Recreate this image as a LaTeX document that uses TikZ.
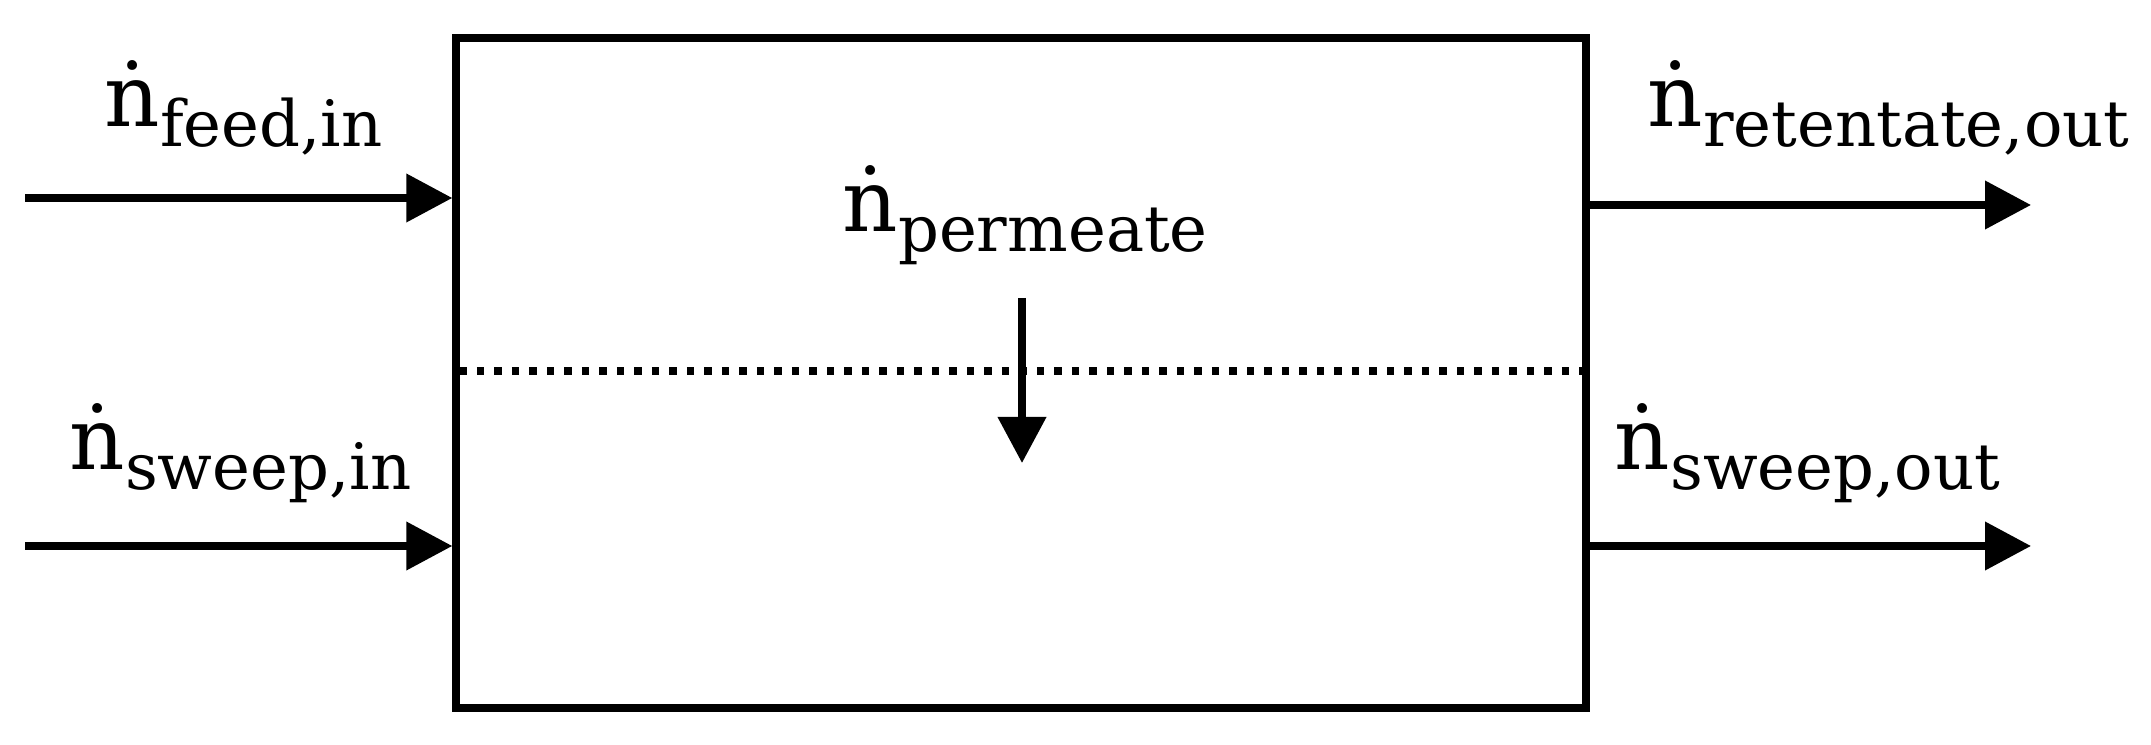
\documentclass[tikz,border=0pt]{standalone}
\usepackage{fontspec}
\setmainfont{DejaVu Serif}
\usepackage{tikz}
\usetikzlibrary{arrows.meta}
\tikzset{>={Triangle[length=4.6mm,width=4.7mm]}}
\tikzstyle{label}=[anchor=base west,inner sep=0,font=\fontsize{24.5}{29}\selectfont]
\tikzstyle{flow}=[->,line width=2.1pt]
\newcommand{\molflow}[1]{\.{n}\raisebox{-0.2cm}{\fontsize{18.2}{22}\selectfont #1}}

\begin{document}
\begin{tikzpicture}
				\useasboundingbox (0,0) rectangle (21.51,7.45);
				\node[draw,line width=2.1pt,minimum width=11.30cm,minimum height=6.70cm,inner sep=0] at (10.21, 3.72)   (unit) {};
				
				\coordinate (fin) at (0.25, 5.47);
				\coordinate (sin) at (0.25, 1.99);
				\coordinate (rout) at (20.31, 5.40);
				\coordinate (sout) at (20.31, 1.99);
				\coordinate (ptop) at (10.22, 4.47);
				\coordinate (pbot) at (10.22, 2.82);
				\coordinate (mem) at (10.21, 3.74);
				
				\draw [flow] (fin) -- (unit.west |- fin);
				\draw [flow] (sin) -- (unit.west |- sin);
				\draw [flow] (unit.east |- rout) -- (rout);
				\draw [flow] (unit.east |- sout) -- (sout);
				
				\draw [line width=2.2pt,dash pattern=on 0.075cm off 0.1cm] ([xshift=2pt]unit.west |- mem) -- ([xshift=-2pt]unit.east |- mem);
				\draw [flow] (ptop) -- (pbot);
				
				\node[label] at (1.04, 6.18)   (a) {\molflow{feed,in}};
				\node[label] at (0.69, 2.75)   (b) {\molflow{sweep,in}};
				\node[label] at (8.42, 5.13)   (c) {\molflow{permeate}};
				\node[label] at (16.47, 6.18)   (d) {\molflow{retentate,out}};
				\node[label] at (16.14, 2.75)   (e) {\molflow{sweep,out}};
			\end{tikzpicture}
\end{document}
